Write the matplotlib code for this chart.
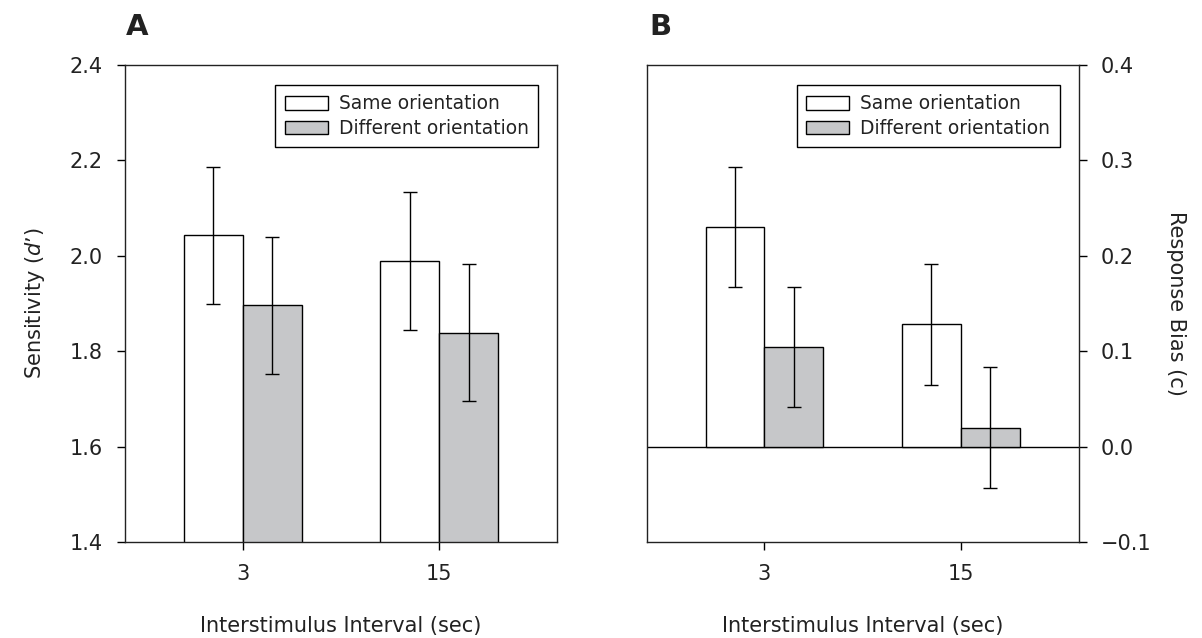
import numpy as np
import matplotlib
matplotlib.use("Agg")
import matplotlib.pyplot as plt
from matplotlib.patches import Patch

# data
isi_labels = ["3", "15"]
series_names = ["Same orientation", "Different orientation"]

dprime_same = [2.043, 1.989]
dprime_diff = [1.896, 1.839]
dprime_same_err = [0.144, 0.144]
dprime_diff_err = [0.144, 0.144]

bias_same = [0.230, 0.128]
bias_diff = [0.104, 0.020]
bias_same_err = [0.063, 0.063]
bias_diff_err = [0.063, 0.063]

GRAY = '#c6c7c9'
TXT = '#222222'
FS = 15

plt.rcParams['font.family'] = 'DejaVu Sans'
plt.rcParams['mathtext.fontset'] = 'dejavusans'
plt.rcParams['text.color'] = TXT
plt.rcParams['axes.labelcolor'] = TXT
plt.rcParams['xtick.labelcolor'] = TXT
plt.rcParams['ytick.labelcolor'] = TXT


def draw_panel(ax, same, diff, same_err, diff_err):
    x = np.arange(len(isi_labels))
    w = 0.3
    ax.bar(x - w/2, same, w, color='white', edgecolor='black', linewidth=1, zorder=2)
    ax.bar(x + w/2, diff, w, color=GRAY, edgecolor='black', linewidth=1, zorder=2)
    ax.errorbar(x - w/2, same, yerr=same_err, fmt='none', ecolor='black',
                elinewidth=1, capsize=4.7, capthick=1, zorder=3)
    ax.errorbar(x + w/2, diff, yerr=diff_err, fmt='none', ecolor='black',
                elinewidth=1, capsize=4.7, capthick=1, zorder=3)
    ax.set_xlim(-0.6, 1.6)
    ax.set_xticks(x)
    ax.set_xticklabels(isi_labels)
    ax.set_xlabel('Interstimulus Interval (sec)', fontsize=FS, labelpad=23)
    ax.tick_params(axis='both', direction='out', length=6, width=1, labelsize=FS, pad=10)
    for s in ax.spines.values():
        s.set_linewidth(1)
        s.set_color('#222222')
    handles = [Patch(facecolor='white', edgecolor='black', linewidth=1),
               Patch(facecolor=GRAY, edgecolor='black', linewidth=1)]
    leg = ax.legend(handles, series_names, loc='upper right', fontsize=13.4,
                    fancybox=False, edgecolor='black', framealpha=1,
                    handlelength=2.3, handleheight=0.75, handletextpad=0.6,
                    borderpad=0.5, labelspacing=0.3, borderaxespad=0,
                    bbox_to_anchor=(0.956, 0.958))
    leg.get_frame().set_linewidth(1)


fig = plt.figure(figsize=(12.02, 6.38), dpi=100)
axA = fig.add_axes([0.104, 0.1505, 0.3594, 0.7476])
axB = fig.add_axes([0.538, 0.1505, 0.3594, 0.7476])

draw_panel(axA, dprime_same, dprime_diff, dprime_same_err, dprime_diff_err)
axA.set_ylim(1.4, 2.4)
axA.set_yticks([1.4, 1.6, 1.8, 2.0, 2.2, 2.4])
axA.set_yticklabels(['1.4', '1.6', '1.8', '2.0', '2.2', '2.4'])
axA.set_ylabel('Sensitivity ($d$’)', fontsize=FS, labelpad=16)

draw_panel(axB, bias_same, bias_diff, bias_same_err, bias_diff_err)
axB.set_ylim(-0.1, 0.4)
axB.set_yticks([-0.1, 0.0, 0.1, 0.2, 0.3, 0.4])
axB.set_yticklabels(['\u22120.1', '0.0', '0.1', '0.2', '0.3', '0.4'])
axB.yaxis.tick_right()
axB.yaxis.set_label_position('right')
axB.axhline(0, color='black', linewidth=1, zorder=1)
axB.set_ylabel('Response Bias (c)', fontsize=FS, rotation=-90, labelpad=25)

fig.text(0.105, 0.957, 'A', fontsize=21, fontweight='bold', va='center', ha='left')
fig.text(0.540, 0.957, 'B', fontsize=21, fontweight='bold', va='center', ha='left')

fig.savefig('out.png', dpi=100)
